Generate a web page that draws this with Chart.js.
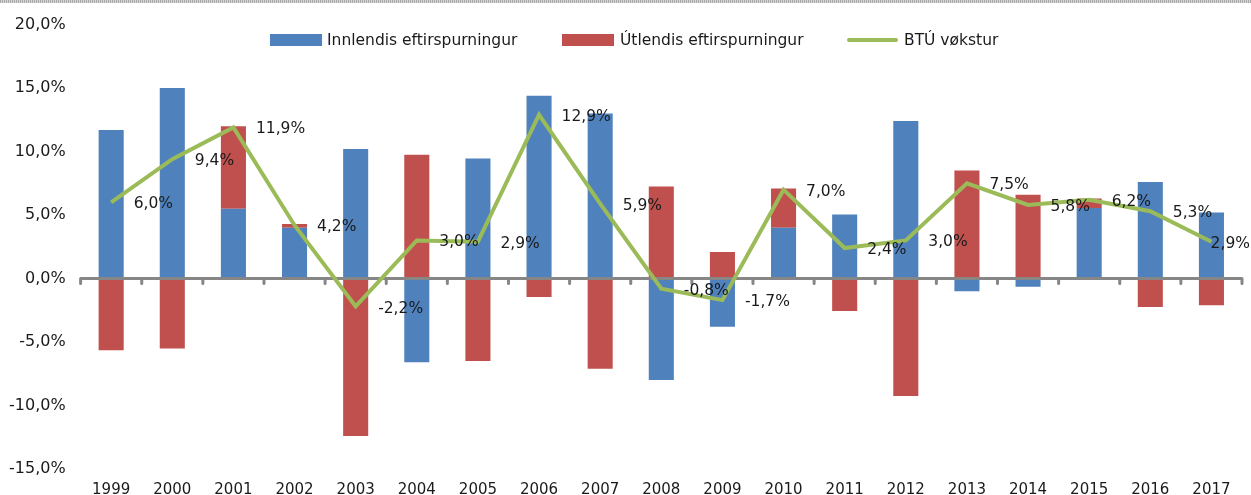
<!DOCTYPE html>
<html>
<head>
<meta charset="utf-8">
<script src="https://cdn.jsdelivr.net/npm/chart.js@4/dist/chart.umd.min.js"></script>
<style>
  html, body { margin: 0; padding: 0; background: #fff; }
  #wrap { position: relative; width: 1251px; height: 495px; overflow: hidden; }
  #topstrip { position: absolute; left: 0; top: 0; width: 1251px; height: 3px;
    background: repeating-linear-gradient(90deg, #a8a8a8 0 1px, #d8d8d8 1px 2px); }
  #legend { position: absolute; top: 31px; left: 0; font: 15.5px 'DejaVu Sans', sans-serif; color: #1a1a1a; }
  .item { position: absolute; white-space: nowrap; top: 0; line-height: 18px; }
  .box { position: absolute; top: 3px; width: 52px; height: 12px; }
  .ln { position: absolute; top: 7px; width: 51px; height: 4px; background: #9bbb59; border-radius: 2px; }
</style>
</head>
<body>
<div id="wrap">
  <canvas id="c" width="1251" height="495"></canvas>
  <div id="topstrip"></div>
  <div id="legend">
    <div class="item" style="left:270px"><span class="box" style="background:#4f81bd"></span><span style="margin-left:57px">Innlendis eftirspurningur</span></div>
    <div class="item" style="left:562px"><span class="box" style="background:#c0504d"></span><span style="margin-left:58px">Útlendis eftirspurningur</span></div>
    <div class="item" style="left:847px"><span class="ln"></span><span style="margin-left:57px">BTÚ vøkstur</span></div>
  </div>
</div>
<script>
// data (percent)
const years = ['1999', '2000', '2001', '2002', '2003', '2004', '2005', '2006', '2007', '2008',
  '2009', '2010', '2011', '2012', '2013', '2014', '2015', '2016', '2017'];
const innlendis = [11.7, 15.0, 5.5, 4.0, 10.2, -6.6, 9.45, 14.4, 13.0, -8.0,
  -3.8, 4.0, 5.05, 12.4, -1.0, -0.65, 5.55, 7.6, 5.2];
const utlendis = [-5.65, -5.5, 6.5, 0.3, -12.4, 9.75, -6.5, -1.45, -7.1, 7.25,
  2.1, 3.1, -2.55, -9.25, 8.5, 6.6, 0.75, -2.25, -2.1];
const btu = [6.0, 9.4, 11.9, 4.2, -2.2, 3.0, 2.9, 12.9, 5.9, -0.8,
  -1.7, 7.0, 2.4, 3.0, 7.5, 5.8, 6.2, 5.3, 2.9];
const yTicks = [-15, -10, -5, 0, 5, 10, 15, 20];

const FONT = "'DejaVu Sans', sans-serif";
const pct = v => v.toFixed(1).replace('.', ',') + '%';

// zero axis with small tick marks between categories, drawn under the line
const zeroAxis = {
  id: 'zeroAxis',
  beforeDatasetDraw(chart, args) {
    if (args.index !== 2) return;
    const { ctx, scales: { x, y } } = chart;
    const y0 = y.getPixelForValue(0);
    const step = x.getPixelForValue(1) - x.getPixelForValue(0);
    const left = x.getPixelForValue(0) - step / 2;
    const right = x.getPixelForValue(years.length - 1) + step / 2;
    ctx.save();
    ctx.strokeStyle = '#868686';
    ctx.lineCap = 'round';
    ctx.lineWidth = 3;
    ctx.beginPath();
    ctx.moveTo(left, y0);
    ctx.lineTo(right, y0);
    for (let i = 0; i <= years.length; i++) {
      const px = left + i * step;
      ctx.moveTo(px, y0);
      ctx.lineTo(px, y0 + 5);
    }
    ctx.stroke();
    ctx.restore();
  },
};

// value labels to the right of each line point (kept inside the canvas)
const lineLabels = {
  id: 'lineLabels',
  afterDatasetsDraw(chart) {
    const { ctx } = chart;
    const meta = chart.getDatasetMeta(2);
    ctx.save();
    ctx.font = '15.5px ' + FONT;
    ctx.fillStyle = '#1a1a1a';
    ctx.textAlign = 'left';
    ctx.textBaseline = 'middle';
    meta.data.forEach((pt, i) => {
      const txt = pct(btu[i]);
      const w = ctx.measureText(txt).width;
      const lx = Math.min(pt.x + 22.5, chart.width - w - 1);
      ctx.fillText(txt, lx, pt.y + 2);
    });
    ctx.restore();
  },
};

new Chart(document.getElementById('c'), {
  type: 'bar',
  data: {
    labels: years,
    datasets: [
      {
        label: 'Innlendis eftirspurningur',
        data: innlendis,
        backgroundColor: '#4f81bd',
        order: 1,
        stack: 'bars',
      },
      {
        label: 'Útlendis eftirspurningur',
        data: utlendis,
        backgroundColor: '#c0504d',
        order: 1,
        stack: 'bars',
      },
      {
        type: 'line',
        label: 'BTÚ vøkstur',
        data: btu,
        borderColor: '#9bbb59',
        borderWidth: 4,
        pointRadius: 0,
        tension: 0,
        order: 0,
        stack: 'line',
      },
    ],
  },
  options: {
    responsive: false,
    animation: false,
    categoryPercentage: 1,
    barPercentage: 0.41,
    layout: { padding: { top: 15, left: -6, right: 9, bottom: -17 } },
    plugins: {
      legend: { display: false },
      tooltip: { enabled: false },
    },
    scales: {
      x: {
        stacked: true,
        grid: { display: false, drawTicks: false },
        border: { display: false },
        ticks: {
          color: '#1a1a1a',
          padding: 14,
          maxRotation: 0,
          font: { family: FONT, size: 15, lineHeight: 1 },
        },
      },
      y: {
        stacked: true,
        min: -15,
        max: 20,
        afterBuildTicks: axis => { axis.ticks = yTicks.map(v => ({ value: v })); },
        grid: { display: false, drawTicks: false },
        border: { display: false },
        ticks: {
          color: '#1a1a1a',
          padding: 15,
          font: { family: FONT, size: 16 },
          callback: v => pct(v),
        },
      },
    },
  },
  plugins: [zeroAxis, lineLabels],
});
</script>
</body>
</html>
